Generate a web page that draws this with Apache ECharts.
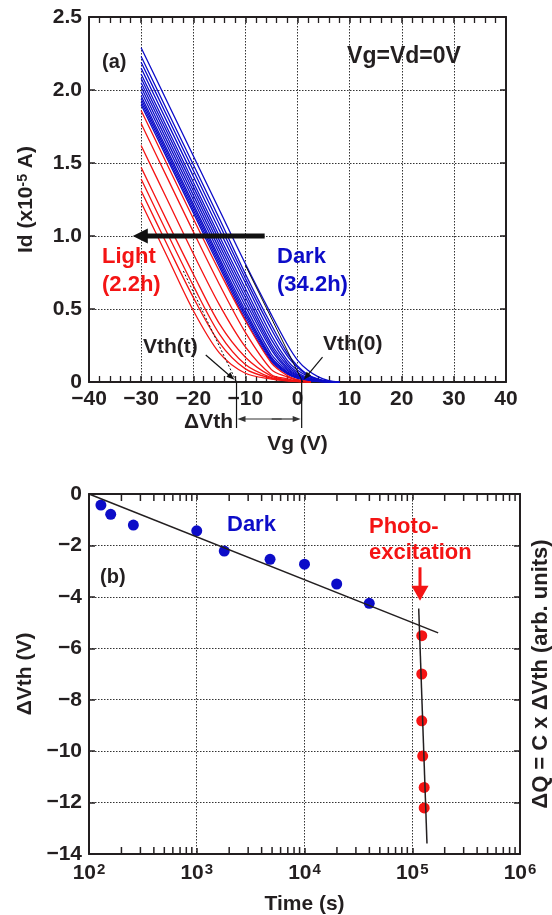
<!DOCTYPE html>
<html>
<head>
<meta charset="UTF-8">
<title>Vth shift – dark / photo-excitation</title>
<style>
  html, body { margin: 0; padding: 0; background: #fff; }
  #chart { width: 552px; height: 915px; }
</style>
</head>
<body>
<div id="chart"></div>
<script src="https://cdn.jsdelivr.net/npm/echarts@6.0.0/dist/echarts.min.js"></script>
<script>
// ---- panel (a): Id-Vg curves (Id in 1e-5 A) ----
const vgDark = [-30, -25, -20, -15, -10, -5, -2, 0, 2, 4, 6, 8];
const idDark = [
  [2.29, 1.92, 1.55, 1.18, 0.81, 0.46, 0.26, 0.15, 0.08, 0.035, 0.01, 0],
  [2.23, 1.86, 1.49, 1.12, 0.74, 0.39, 0.20, 0.11, 0.05, 0.02, 0.005, 0],
  [2.19, 1.82, 1.45, 1.08, 0.71, 0.36, 0.18, 0.10, 0.045, 0.018, 0.004, 0],
  [2.15, 1.78, 1.41, 1.04, 0.68, 0.32, 0.15, 0.08, 0.04, 0.015, 0.003, 0],
  [2.11, 1.74, 1.37, 1.00, 0.64, 0.29, 0.13, 0.065, 0.03, 0.012, 0.002, 0],
  [2.08, 1.71, 1.34, 0.97, 0.61, 0.26, 0.115, 0.055, 0.025, 0.01, 0.002, 0],
  [2.05, 1.68, 1.31, 0.94, 0.58, 0.24, 0.10, 0.048, 0.022, 0.008, 0.001, 0],
  [2.02, 1.65, 1.28, 0.91, 0.55, 0.22, 0.09, 0.043, 0.02, 0.007, 0.001, 0],
  [1.99, 1.62, 1.25, 0.88, 0.52, 0.19, 0.08, 0.038, 0.017, 0.006, 0.001, 0],
  [1.96, 1.59, 1.22, 0.85, 0.49, 0.17, 0.07, 0.033, 0.015, 0.005, 0.001, 0],
  [1.94, 1.57, 1.20, 0.83, 0.47, 0.16, 0.065, 0.03, 0.013, 0.004, 0.001, 0],
  [1.92, 1.55, 1.18, 0.81, 0.45, 0.15, 0.06, 0.028, 0.012, 0.004, 0.001, 0],
  [1.90, 1.53, 1.16, 0.79, 0.43, 0.14, 0.055, 0.025, 0.011, 0.003, 0.001, 0]
];
const vgLight = [-30, -25, -20, -15, -10, -5, -2, 0, 2.5];
const idLight = [
  [1.86, 1.49, 1.12, 0.76, 0.42, 0.13, 0.045, 0.015, 0],
  [1.77, 1.40, 1.03, 0.67, 0.34, 0.085, 0.035, 0.012, 0],
  [1.62, 1.25, 0.88, 0.53, 0.24, 0.05, 0.022, 0.008, 0],
  [1.47, 1.10, 0.74, 0.40, 0.17, 0.04, 0.015, 0.006, 0],
  [1.39, 1.02, 0.66, 0.33, 0.12, 0.03, 0.012, 0.005, 0],
  [1.31, 0.94, 0.58, 0.27, 0.09, 0.025, 0.01, 0.004, 0],
  [1.23, 0.86, 0.49, 0.20, 0.06, 0.02, 0.008, 0.003, 0]
];
// annotation anchors (data coords of panel a)
const shiftArrow = [[-6.3, 1.0], [-31.6, 1.0]];
const tangentLight = [[-21.9, 0.76], [-11.7, 0]];
const tangentDark = [[-10, 0.80], [1.0, 0]];
const vthT = -11.7, vth0 = 0.8;

// ---- panel (b): dVth vs time ----
const darkTime = [129, 159, 258, 1000, 1800, 4790, 10000, 19900, 39900];
const darkDvth = [-0.43, -0.79, -1.21, -1.43, -2.22, -2.54, -2.73, -3.50, -4.25];
const lightTime = [122500, 122500, 122500, 125000, 129000, 129000];
const lightDvth = [-5.51, -7.00, -8.82, -10.19, -11.41, -12.21];
const darkFit = [[100, 0], [174000, -5.40]];
const lightFit = [[114800, -4.45], [137000, -13.59]];
const photoArrow = [[118000, -2.85], [118000, -4.15]];

const FONT = '"Liberation Sans", Arial, sans-serif';
const INK = '#231f20';
const BLUE = '#0c0cc8';
const RED = '#f41414';
const minus = v => String(v).replace('-', '\u2212');

// decade minor ticks 2..9 for the log axis
const logMinor = [];
for (let d = 100; d < 1e6; d *= 10) for (let m = 2; m <= 9; m++) logMinor.push(d * m);

const chart = echarts.init(document.getElementById('chart'));

const lbl = { color: INK, fontSize: 21, fontWeight: 'bold', fontFamily: FONT };
const nameStyle = { color: INK, fontSize: 21, fontWeight: 'bold', fontFamily: FONT };
const frameLine = { show: true, onZero: false, lineStyle: { color: INK, width: 2 } };
const tickIn = { show: true, inside: true, length: 6, lineStyle: { color: INK, width: 1.5 } };
const minorIn = { show: true, splitNumber: 5, length: 6, lineStyle: { color: INK, width: 1.3 } };
const dotted = { show: true, lineStyle: { color: '#333', width: 1, type: [1.5, 1.5] } };

const series = [];
idDark.forEach(arr => series.push({
  type: 'line', xAxisIndex: 0, yAxisIndex: 0, showSymbol: false, smooth: 0.3,
  data: vgDark.map((v, i) => [v, arr[i]]),
  lineStyle: { color: BLUE, width: 1.3 }, silent: true
}));
idLight.forEach(arr => series.push({
  type: 'line', xAxisIndex: 0, yAxisIndex: 0, showSymbol: false, smooth: 0.3,
  data: vgLight.map((v, i) => [v, arr[i]]),
  lineStyle: { color: RED, width: 1.3 }, silent: true
}));
series.push({
  type: 'line', xAxisIndex: 2, yAxisIndex: 2, showSymbol: false, data: darkFit,
  lineStyle: { color: INK, width: 1.5 }, silent: true
});
series.push({
  type: 'line', xAxisIndex: 2, yAxisIndex: 2, showSymbol: false, data: lightFit,
  lineStyle: { color: INK, width: 1.5 }, silent: true
});
series.push({
  type: 'scatter', xAxisIndex: 2, yAxisIndex: 2, symbolSize: 11,
  data: darkTime.map((t, i) => [t, darkDvth[i]]),
  itemStyle: { color: BLUE, opacity: 1 }, silent: true
});
series.push({
  type: 'scatter', xAxisIndex: 2, yAxisIndex: 2, symbolSize: 11,
  data: lightTime.map((t, i) => [t, lightDvth[i]]),
  itemStyle: { color: RED, opacity: 1 }, silent: true
});
// log minor ticks on top and bottom frame of panel (b)
series.push({
  type: 'scatter', xAxisIndex: 2, yAxisIndex: 2, symbol: 'rect', symbolSize: [1.5, 7],
  symbolOffset: [0, 3.5], clip: false, silent: true, z: 5,
  data: logMinor.map(v => [v, 0]), itemStyle: { color: INK, opacity: 1 }
});
series.push({
  type: 'scatter', xAxisIndex: 2, yAxisIndex: 2, symbol: 'rect', symbolSize: [1.5, 7],
  symbolOffset: [0, -3.5], clip: false, silent: true, z: 5,
  data: logMinor.map(v => [v, -14]), itemStyle: { color: INK, opacity: 1 }
});

chart.setOption({
  animation: false,
  backgroundColor: '#fff',
  grid: [
    { left: 89, top: 17, width: 417, height: 365, outerBoundsMode: 'none' },
    { left: 89, top: 494, width: 431, height: 360, outerBoundsMode: 'none' }
  ],
  xAxis: [
    {
      gridIndex: 0, type: 'value', min: -40, max: 40, interval: 10, position: 'bottom',
      axisLine: frameLine, axisTick: tickIn, minorTick: minorIn,
      axisLabel: Object.assign({ margin: 7, formatter: minus }, lbl),
      splitLine: dotted,
      name: 'Vg (V)', nameLocation: 'middle', nameGap: 52, nameTextStyle: nameStyle
    },
    {
      gridIndex: 0, type: 'value', min: -40, max: 40, interval: 10, position: 'top',
      axisLine: frameLine, axisTick: tickIn, minorTick: minorIn,
      axisLabel: { show: false }, splitLine: { show: false }
    },
    {
      gridIndex: 1, type: 'log', logBase: 10, min: 100, max: 1e6, position: 'bottom',
      axisLine: frameLine, axisTick: tickIn,
      axisLabel: Object.assign({
        margin: 8,
        formatter: v => '10{e|' + Math.round(Math.log10(v)) + '}',
        rich: { e: { fontSize: 15, fontWeight: 'bold', fontFamily: FONT, color: INK, verticalAlign: 'top', padding: [0, 0, 8, 1] } }
      }, lbl),
      splitLine: dotted,
      name: 'Time (s)', nameLocation: 'middle', nameGap: 40, nameTextStyle: nameStyle
    },
    {
      gridIndex: 1, type: 'log', logBase: 10, min: 100, max: 1e6, position: 'top',
      axisLine: frameLine, axisTick: tickIn,
      axisLabel: { show: false }, splitLine: { show: false }
    }
  ],
  yAxis: [
    {
      gridIndex: 0, type: 'value', min: 0, max: 2.5, interval: 0.5, position: 'left',
      axisLine: frameLine, axisTick: tickIn,
      axisLabel: Object.assign({ margin: 7, formatter: v => v === 0 ? '0' : v.toFixed(1) }, lbl),
      splitLine: dotted,
      name: 'Id (x10{s|-5} A)', nameLocation: 'middle', nameGap: 52,
      nameTextStyle: Object.assign({
        rich: { s: { fontSize: 14, fontWeight: 'bold', fontFamily: FONT, color: INK, verticalAlign: 'top' } }
      }, nameStyle)
    },
    {
      gridIndex: 0, type: 'value', min: 0, max: 2.5, interval: 0.5, position: 'right',
      axisLine: frameLine, axisTick: tickIn, axisLabel: { show: false }, splitLine: { show: false }
    },
    {
      gridIndex: 1, type: 'value', min: -14, max: 0, interval: 2, position: 'left',
      axisLine: frameLine, axisTick: tickIn,
      axisLabel: Object.assign({ margin: 7, formatter: minus }, lbl),
      splitLine: dotted,
      name: '\u0394Vth (V)', nameLocation: 'middle', nameGap: 52, nameTextStyle: nameStyle
    },
    {
      gridIndex: 1, type: 'value', min: -14, max: 0, interval: 2, position: 'right',
      axisLine: frameLine, axisTick: tickIn, axisLabel: { show: false }, splitLine: { show: false },
      name: '\u0394Q = C x \u0394Vth (arb. units)', nameLocation: 'middle', nameGap: 10, nameRotate: 90,
      nameTextStyle: Object.assign({}, nameStyle, { fontSize: 22 })
    }
  ],
  series: series
});

// ---- annotations ----
const pa = p => chart.convertToPixel({ xAxisIndex: 0, yAxisIndex: 0 }, p);
const pb = p => chart.convertToPixel({ xAxisIndex: 2, yAxisIndex: 2 }, p);

function arrow(p0, p1, color, width, head, headW) {
  const dx = p1[0] - p0[0], dy = p1[1] - p0[1];
  const len = Math.hypot(dx, dy), ux = dx / len, uy = dy / len;
  const bx = p1[0] - ux * head, by = p1[1] - uy * head, hw = headW / 2;
  return [
    { type: 'line', z: 100, shape: { x1: p0[0], y1: p0[1], x2: bx + ux, y2: by + uy },
      style: { stroke: color, lineWidth: width } },
    { type: 'polygon', z: 100, shape: { points: [p1, [bx - uy * hw, by + ux * hw], [bx + uy * hw, by - ux * hw]] },
      style: { fill: color } }
  ];
}
function seg(p0, p1, color, width, dash) {
  return { type: 'line', z: 100, shape: { x1: p0[0], y1: p0[1], x2: p1[0], y2: p1[1] },
    style: { stroke: color, lineWidth: width, lineDash: dash || null } };
}
function text(str, x, y, color, size, align) {
  return { type: 'text', z: 100, x: x, y: y,
    style: { text: str, fill: color, font: 'bold ' + size + 'px ' + FONT,
      align: align || 'left', textAlign: align || 'left', verticalAlign: 'middle', textVerticalAlign: 'middle' } };
}

const g = [];
// panel (a)
g.push(...arrow(pa(shiftArrow[0]), pa(shiftArrow[1]), '#111', 5, 15, 15));
g.push(seg(pa(tangentLight[0]), pa(tangentLight[1]), '#111', 1, [2, 2]));
g.push(seg(pa(tangentDark[0]), pa(tangentDark[1]), '#111', 1));
const xt = pa([vthT, 0]), x0 = pa([vth0, 0]);
g.push(seg([xt[0], xt[1]], [xt[0], xt[1] + 46], '#111', 1.2));
g.push(seg([x0[0], x0[1] - 2], [x0[0], x0[1] + 46], '#111', 1.2));
g.push(...arrow([x0[0] - 20, xt[1] + 37], [xt[0] + 1, xt[1] + 37], '#333', 1.2, 8, 6));
g.push(...arrow([x0[0] - 30, xt[1] + 37], [x0[0] - 1, xt[1] + 37], '#333', 1.2, 8, 6));
g.push(...arrow(pa([-17.6, 0.185]), pa([-12.1, 0.015]), '#111', 1.2, 8, 6));
g.push(...arrow(pa([4.8, 0.17]), pa([1.2, 0.015]), '#111', 1.2, 8, 6));
g.push(text('(a)', 102, 62, INK, 20));
g.push(text('Vg=Vd=0V', 404, 57, INK, 23, 'center'));
g.push(text('Light', 102, 257, RED, 22));
g.push(text('(2.2h)', 102, 285, RED, 22));
g.push(text('Dark', 277, 257, BLUE, 22));
g.push(text('(34.2h)', 277, 285, BLUE, 22));
g.push(text('Vth(t)', 143, 347, INK, 21));
g.push(text('Vth(0)', 323, 344, INK, 21));
g.push(text('\u0394Vth', 233, 422, INK, 21, 'right'));
// panel (b)
g.push(...arrow(pb(photoArrow[0]), pb(photoArrow[1]), RED, 3, 15, 17));
g.push(text('Dark', 227, 525, BLUE, 22));
g.push(text('(b)', 100, 577, INK, 20));
g.push(text('Photo-', 369, 527, RED, 22));
g.push(text('excitation', 369, 553, RED, 22));

chart.setOption({ graphic: g });
</script>
</body>
</html>
